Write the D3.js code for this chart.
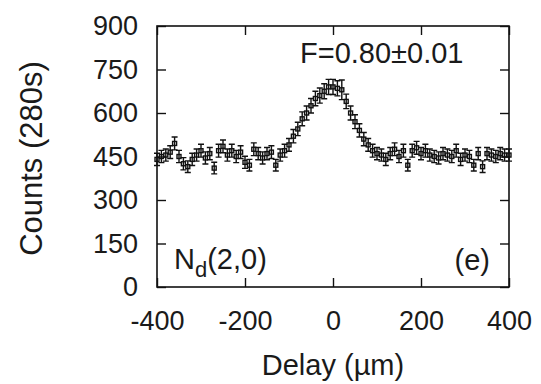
<!DOCTYPE html>
<html>
<head>
<meta charset="utf-8">
<script src="https://cdn.jsdelivr.net/npm/d3@7"></script>
<style>
  body { margin: 0; background: #fff; }
  text { font-family: "Liberation Sans", Arial, Helvetica, sans-serif; fill: #1a1a1a; }
</style>
</head>
<body>
<div id="chart"></div>
<script>
// delay scan positions (µm)
const delays = [
    -400, -390, -380, -370, -360, -350, -340, -330, -320, -310,
    -300, -290, -280, -270, -260, -250, -240, -230, -220, -210,
    -200, -190, -180, -170, -160, -150, -140, -130, -120, -110,
    -100, -90, -80, -70, -60, -50, -40, -30, -20, -10,
    0, 10, 20, 30, 40, 50, 60, 70, 80, 90,
    100, 110, 120, 130, 140, 150, 160, 170, 180, 190,
    200, 210, 220, 230, 240, 250, 260, 270, 280, 290,
    300, 310, 320, 330, 340, 350, 360, 370, 380, 390, 400
];
// counts in 280 s
const counts = [
    440, 450, 455, 465, 495, 450, 425, 415, 440, 455,
    470, 445, 460, 410, 470, 485, 455, 470, 450, 465,
    430, 420, 475, 460, 445, 460, 465, 420, 455, 470,
    490, 520, 545, 580, 600, 625, 650, 660, 675, 690,
    690, 685, 680, 640, 600, 570, 540, 510, 490, 470,
    460, 455, 440, 460, 475, 450, 470, 420, 470, 480,
    460, 470, 455, 450, 445, 460, 455, 450, 470, 440,
    455, 450, 420, 460, 415, 460, 455, 450, 460, 455, 455
];
// error bar half-widths
const errors = [
    21, 21, 21, 22, 22, 21, 21, 20, 21, 21,
    22, 21, 21, 20, 22, 22, 21, 22, 21, 22,
    21, 20, 22, 21, 21, 21, 22, 20, 21, 22,
    22, 23, 23, 24, 24, 25, 25, 26, 26, 26,
    26, 26, 34, 25, 24, 24, 23, 23, 22, 22,
    21, 21, 21, 21, 22, 21, 22, 20, 22, 22,
    21, 22, 21, 21, 21, 21, 21, 21, 22, 21,
    21, 21, 20, 21, 20, 21, 21, 21, 21, 21, 21
];
const xTicks = [-400, -200, 0, 200, 400];
const yTicks = [0, 150, 300, 450, 600, 750, 900];

const dimensions = {
    width: 541,
    height: 384,
    margin: { top: 26, right: 32, bottom: 97, left: 157 }
};
const innerW = dimensions.width - dimensions.margin.left - dimensions.margin.right;
const innerH = dimensions.height - dimensions.margin.top - dimensions.margin.bottom;

const data = delays.map((d, i) => ({ x: d, y: counts[i], e: errors[i] }));

const svg = d3.select("#chart")
    .append("svg")
    .attr("width", dimensions.width)
    .attr("height", dimensions.height);

const g = svg.append("g")
    .attr("transform", `translate(${dimensions.margin.left},${dimensions.margin.top})`);

const xScale = d3.scaleLinear().domain([-400, 400]).range([0, innerW]);
const yScale = d3.scaleLinear().domain([0, 900]).range([innerH, 0]);

const tickLen = 9;

// axes with inward ticks, mirrored on all sides
g.append("g")
    .attr("transform", `translate(0,${innerH})`)
    .call(d3.axisBottom(xScale).tickValues(xTicks).tickSize(-tickLen).tickPadding(tickLen + 15).tickFormat(d => String(d)))
    .call(a => a.select(".domain").remove());
g.append("g")
    .call(d3.axisTop(xScale).tickValues(xTicks).tickSize(-tickLen).tickFormat(""))
    .call(a => a.select(".domain").remove());
g.append("g")
    .call(d3.axisLeft(yScale).tickValues(yTicks).tickSize(-tickLen).tickPadding(tickLen + 10))
    .call(a => a.select(".domain").remove());
g.append("g")
    .attr("transform", `translate(${innerW},0)`)
    .call(d3.axisRight(yScale).tickValues(yTicks).tickSize(-tickLen).tickFormat(""))
    .call(a => a.select(".domain").remove());

g.selectAll(".tick line").attr("stroke", "#111").attr("stroke-width", 1.4);
g.selectAll(".tick text")
    .style("font-size", "27px")
    .attr("fill", "#1a1a1a");

// frame
g.append("rect")
    .attr("width", innerW)
    .attr("height", innerH)
    .attr("fill", "none")
    .attr("stroke", "#111")
    .attr("stroke-width", 1.6);

// error bars
const cap = 3;
const bars = g.append("g").attr("stroke", "#111").attr("stroke-width", 1.4).attr("fill", "none");
bars.selectAll("path.err")
    .data(data)
    .join("path")
    .attr("class", "err")
    .attr("d", d => {
        const x = xScale(d.x), y0 = yScale(d.y - d.e), y1 = yScale(d.y + d.e);
        return `M${x},${y0}V${y1}M${x - cap},${y0}H${x + cap}M${x - cap},${y1}H${x + cap}`;
    });

// point markers
g.append("g").selectAll("rect")
    .data(data)
    .join("rect")
    .attr("x", d => xScale(d.x) - 2)
    .attr("y", d => yScale(d.y) - 2)
    .attr("width", 4)
    .attr("height", 4)
    .attr("fill", "none")
    .attr("stroke", "#111")
    .attr("stroke-width", 1.4);

// annotations
g.append("text")
    .attr("x", 143)
    .attr("y", 37)
    .style("font-size", "29px")
    .text("F=0.80\u00b10.01");

const nd = g.append("text")
    .attr("x", 17)
    .attr("y", 243)
    .style("font-size", "29px");
nd.append("tspan").text("N");
nd.append("tspan").attr("dy", 8).style("font-size", "22px").text("d");
nd.append("tspan").attr("dy", -8).text("(2,0)");

g.append("text")
    .attr("x", innerW - 19)
    .attr("y", 244)
    .attr("text-anchor", "end")
    .style("font-size", "29px")
    .text("(e)");

// axis titles
svg.append("text")
    .attr("x", dimensions.margin.left + innerW / 2)
    .attr("y", 375)
    .attr("text-anchor", "middle")
    .style("font-size", "29px")
    .text("Delay (\u00b5m)");

svg.append("text")
    .attr("transform", `translate(42,${dimensions.margin.top + innerH / 2 + 2}) rotate(-90)`)
    .attr("text-anchor", "middle")
    .style("font-size", "31px")
    .text("Counts (280s)");
</script>
</body>
</html>
